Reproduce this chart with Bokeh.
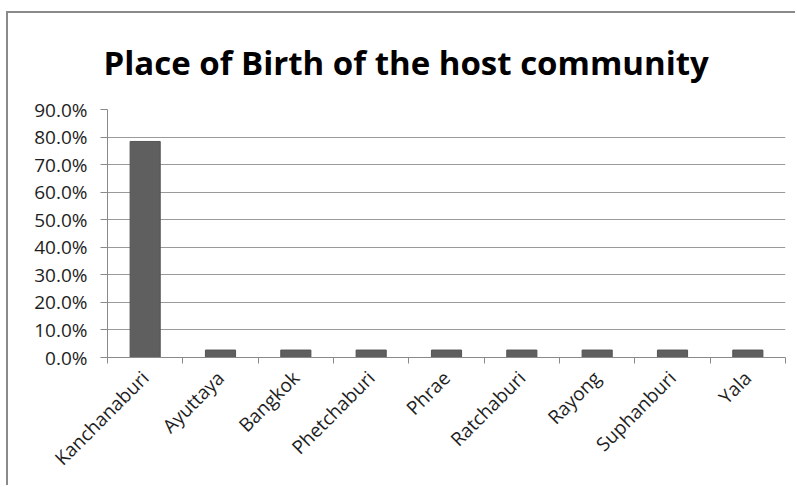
import math
from bokeh.plotting import figure
from bokeh.models import Range1d, FixedTicker, NumeralTickFormatter, Title
from bokeh.embed import file_html
from bokeh.resources import INLINE

# Share of the host community by province of birth
provinces = ["Kanchanaburi", "Ayuttaya", "Bangkok", "Phetchaburi", "Phrae",
             "Ratchaburi", "Rayong", "Suphanburi", "Yala"]
shares = [0.784, 0.027, 0.027, 0.027, 0.027, 0.027, 0.027, 0.027, 0.027]
y_ticks = [0.0, 0.1, 0.2, 0.3, 0.4, 0.5, 0.6, 0.7, 0.8, 0.9]
chart_title = "Place of Birth of the host community"

GRID = "#9a9a9a"
AXIS = "#8a8a8a"
BAR = "#5f5f5f"
TEXT = "#1e1e1e"
FONT = "Open Sans"

n = len(provinces)
centers = [i + 0.5 for i in range(n)]

p = figure(width=789, height=474, output_backend="svg", toolbar_location=None,
           x_range=Range1d(0, n), y_range=Range1d(0, 0.9),
           min_border_left=99, min_border_right=12,
           min_border_top=95, min_border_bottom=130)
p.margin = (11, 0, 0, 6)
p.styles = {"border-left": "2px solid #8a8a8a", "border-top": "2px solid #8a8a8a"}
p.outline_line_color = None
p.background_fill_color = "white"
p.border_fill_color = "white"

p.add_layout(Title(text=chart_title, align="left", offset=-4, standoff=49,
                   text_font=FONT, text_font_style="bold", text_font_size="33px",
                   text_color="#000000"), "above")

p.vbar(x=centers, top=shares, width=0.4, fill_color=BAR, line_color="#555555")

# x axis: labels at category centres, tick marks on category boundaries
xa = p.xaxis[0]
xa.ticker = FixedTicker(ticks=centers, minor_ticks=list(range(n + 1)))
xa.major_label_overrides = {c: name for c, name in zip(centers, provinces)}
xa.major_label_orientation = math.pi / 4
xa.major_tick_line_color = None
xa.minor_tick_line_color = AXIS
xa.minor_tick_in = 0
xa.minor_tick_out = 6
xa.axis_line_color = AXIS
xa.major_label_text_font = FONT
xa.major_label_text_font_size = "19px"
xa.major_label_text_color = TEXT
xa.major_label_standoff = 11

ya = p.yaxis[0]
ya.ticker = FixedTicker(ticks=y_ticks, minor_ticks=[])
ya.formatter = NumeralTickFormatter(format="0.0%")
ya.major_tick_line_color = AXIS
ya.major_tick_in = 0
ya.major_tick_out = 7
ya.minor_tick_line_color = None
ya.axis_line_color = AXIS
ya.major_label_text_font = FONT
ya.major_label_text_font_size = "19px"
ya.major_label_text_color = TEXT
ya.major_label_standoff = 13

p.xgrid.grid_line_color = None
p.ygrid.grid_line_color = GRID
p.ygrid.ticker = FixedTicker(ticks=y_ticks)

open("out.html", "w").write(file_html(p, INLINE))
